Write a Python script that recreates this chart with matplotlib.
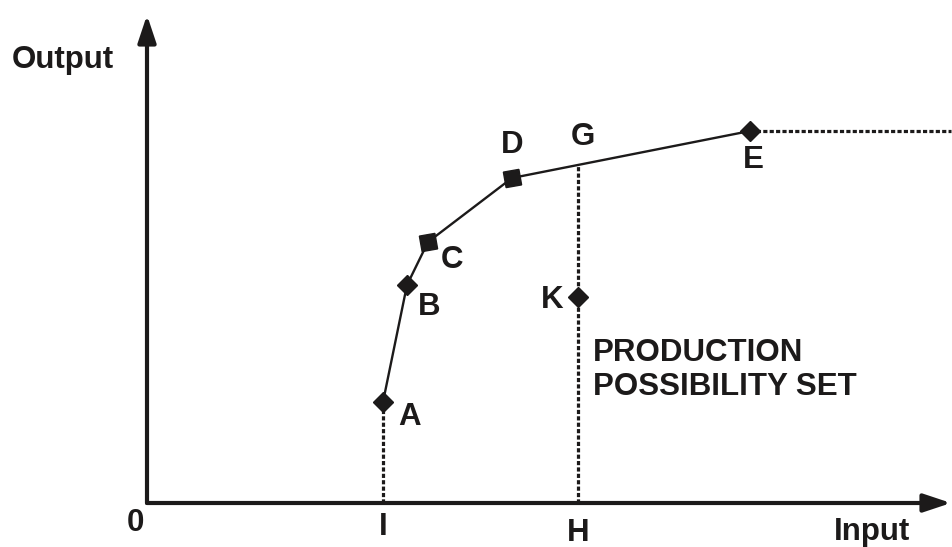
import matplotlib
matplotlib.use("Agg")
import matplotlib.pyplot as plt

# frontier points (input, output)
frontier_names = ["A", "B", "C", "D", "E"]
frontier_x = [2.36, 2.60, 2.81, 3.65, 6.03]
frontier_y = [1.01, 2.18, 2.61, 3.25, 3.72]

# inefficient unit K and its projection G on the frontier
k_x, k_y = 4.31, 2.06
g_x, g_y = 4.31, 3.38

# axis ticks labelled with letters
tick_x = [2.36, 4.31]
tick_labels = ["I", "H"]

INK = "#1c1a1a"
FONT = dict(family="Liberation Sans", fontweight="bold", fontsize=22.5, color=INK)


def draw(ax):
    # axes with arrows
    ax.annotate("", xy=(8.04, 0), xytext=(0, 0),
                arrowprops=dict(arrowstyle="-|>,head_width=0.25,head_length=0.75",
                                lw=3, color=INK, mutation_scale=22, shrinkA=0, shrinkB=0))
    ax.annotate("", xy=(0, 4.88), xytext=(0, 0),
                arrowprops=dict(arrowstyle="-|>,head_width=0.25,head_length=0.75",
                                lw=3, color=INK, mutation_scale=22, shrinkA=0, shrinkB=0))

    dots = dict(color=INK, lw=2.3, linestyle=(0, (1.3, 0.7)), dash_capstyle="butt")
    # dotted drop lines and flat extension of the frontier
    ax.plot([frontier_x[0], frontier_x[0]], [0, frontier_y[0]], **dots)
    ax.plot([g_x, g_x], [0, g_y], **dots)
    ax.plot([frontier_x[-1], 8.04], [frontier_y[-1], frontier_y[-1]], **dots)

    # frontier
    ax.plot(frontier_x, frontier_y, color=INK, lw=1.7, zorder=3)
    for i, (x, y) in enumerate(zip(frontier_x, frontier_y)):
        if frontier_names[i] in ("C", "D"):
            ax.plot(x, y, marker=(4, 0, 55), ms=16, color=INK, mec=INK, zorder=4)
        else:
            ax.plot(x, y, marker="D", ms=10.5, color=INK, mec=INK, zorder=4)
    ax.plot(k_x, k_y, marker="D", ms=10.5, color=INK, zorder=4)

    # point labels, offsets in pixels
    offsets = {"A": (27, -15), "B": (22, -22), "C": (24, -18), "D": (0, 33), "E": (3, -29)}
    for name, x, y in zip(frontier_names, frontier_x, frontier_y):
        ax.annotate(name, (x, y), xytext=offsets[name], textcoords="offset pixels",
                    ha="center", va="center", **FONT)
    ax.annotate("G", (g_x, g_y), xytext=(5, 28), textcoords="offset pixels",
                ha="center", va="center", **FONT)
    ax.annotate("K", (k_x, k_y), xytext=(-26, -3), textcoords="offset pixels",
                ha="center", va="center", **FONT)

    # axis letters
    ax.text(-0.12, -0.2, "0", ha="center", va="center", **FONT)
    ax.text(tick_x[0], -0.24, tick_labels[0], ha="center", va="center", **FONT)
    ax.text(tick_x[1], -0.3, tick_labels[1], ha="center", va="center", **FONT)
    ax.text(7.25, -0.29, "Input", ha="center", va="center", **FONT)
    ax.text(-0.84, 4.43, "Output", ha="center", va="center", **FONT)

    ax.text(4.46, 1.33, "PRODUCTION\nPOSSIBILITY SET", ha="left", va="center",
            linespacing=1.2, **FONT)


if __name__ == "__main__":
    fig = plt.figure(figsize=(9.52, 5.47), dpi=100)
    ax = fig.add_axes([0, 0, 1, 1])
    ax.set_xlim(-1.47, 8.05)
    ax.set_ylim(-0.44, 5.03)
    ax.axis("off")
    draw(ax)
    fig.savefig("out.png", dpi=100)
